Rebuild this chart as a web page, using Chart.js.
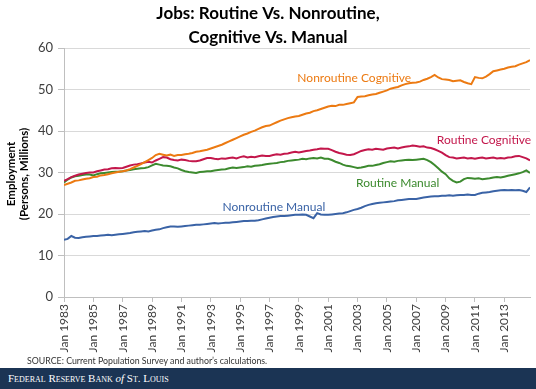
<!DOCTYPE html>
<html lang="en">
<head>
  <meta charset="UTF-8">
  <meta name="viewport" content="width=device-width, initial-scale=1.0">
  <title>Jobs: Routine Vs. Nonroutine, Cognitive Vs. Manual</title>
  <script src="https://cdn.jsdelivr.net/npm/chart.js"></script>
  <style>
    body {
      margin: 0;
      background: #ffffff;
      font-family: Lato, "Open Sans", sans-serif;
    }

    .page {
      position: relative;
      width: 536px;
      height: 389px;
      overflow: hidden;
    }

    .chart-container {
      position: absolute;
      left: 0;
      top: 0;
      width: 536px;
      height: 356px;
    }

    .source {
      position: absolute;
      left: 27px;
      top: 355px;
      font-size: 8.8px;
      color: #333333;
    }

    .footer {
      position: absolute;
      left: 0;
      top: 368px;
      width: 536px;
      height: 21px;
      box-sizing: border-box;
      padding-left: 8px;
      background: #1b3454;
      color: #ffffff;
      font-family: "Liberation Serif", "DejaVu Serif", serif;
      font-variant: small-caps;
      font-size: 11px;
      line-height: 21px;
    }

    .footer i {
      font-variant: normal;
    }
  </style>
</head>
<body>
  <div class="page">
    <div class="chart-container">
      <canvas id="jobsChart"></canvas>
    </div>
    <div class="source">SOURCE: Current Population Survey and author’s calculations.</div>
    <div class="footer">Federal Reserve Bank <i>of</i> St. Louis</div>
  </div>

  <script>
    // Quarterly readings (Jan, Apr, Jul, Oct), Jan 1983 - Oct 2014, millions of persons
    const startYear = 1983;
    const tickYears = [1983, 1985, 1987, 1989, 1991, 1993, 1995, 1997, 1999, 2001, 2003, 2005, 2007, 2009, 2011, 2013];
    const yTicks = [0, 10, 20, 30, 40, 50, 60];

    const nonroutineCognitive = [
      27.0, 27.3, 27.6, 28.0,  28.1, 28.3, 28.5, 28.6,  28.9, 29.0, 29.3, 29.4,
      29.6, 29.8, 30.0, 30.2,  30.3, 30.5, 30.8, 31.2,  31.6, 32.0, 32.5, 33.0,
      33.5, 34.2, 34.5, 34.3,  34.1, 34.3, 34.0, 34.2,  34.2, 34.4, 34.5, 34.7,
      35.0, 35.1, 35.3, 35.5,  35.8, 36.1, 36.4, 36.7,  37.1, 37.5, 37.9, 38.3,
      38.7, 39.1, 39.4, 39.8,  40.1, 40.5, 40.9, 41.2,  41.3, 41.7, 42.1, 42.5,
      42.8, 43.1, 43.3, 43.5,  43.6, 43.9, 44.2, 44.4,  44.8, 45.0, 45.3, 45.6,
      45.9, 46.1, 46.0, 46.3,  46.3, 46.5, 46.7, 46.9,  48.2, 48.3, 48.4, 48.6,
      48.8, 48.9, 49.2, 49.5,  49.8, 50.2, 50.4, 50.6,  51.0, 51.3, 51.5, 51.6,
      51.7, 51.9, 52.3, 52.6,  53.0, 53.5, 52.9, 52.5,  52.4, 52.3, 52.0, 52.1,
      52.2, 51.8, 51.5, 51.3,  53.0, 52.8, 52.7, 53.1,  53.7, 54.4, 54.6, 54.8,
      55.0, 55.3, 55.5, 55.6,  56.0, 56.3, 56.6, 57.1
    ];
    const routineCognitive = [
      28.0, 28.4, 28.9, 29.2,  29.5, 29.7, 29.9, 30.0,  30.0, 30.3, 30.5, 30.7,
      30.8, 31.0, 31.1, 31.0,  31.1, 31.4, 31.7, 31.9,  32.0, 32.2, 32.4, 32.6,
      32.4, 32.9, 33.3, 33.7,  33.6, 33.2, 33.0, 32.9,  33.1, 33.0, 32.8, 32.7,
      32.7, 32.9, 33.2, 33.5,  33.5, 33.3, 33.2, 33.4,  33.3, 33.5, 33.6, 33.4,
      33.7, 33.9, 33.6, 33.8,  33.7, 33.9, 34.1, 34.0,  34.0, 34.2, 34.4, 34.3,
      34.5, 34.6, 34.8, 35.0,  34.8, 35.0, 35.2, 35.3,  35.5, 35.6, 35.8, 35.7,
      35.7, 35.4, 35.0, 34.7,  34.5, 34.3, 34.2, 34.4,  34.8, 35.2, 35.4, 35.6,
      35.5, 35.7, 35.6, 35.5,  35.8, 35.9, 36.0, 35.8,  36.0, 36.2, 36.3, 36.5,
      36.4, 36.2, 36.3, 36.0,  35.9, 35.6, 35.2, 34.8,  34.2, 33.7, 33.6, 33.4,
      33.5, 33.6, 33.4, 33.5,  33.3, 33.5, 33.6, 33.4,  33.5, 33.6, 33.4, 33.5,
      33.4, 33.6, 33.7, 33.9,  34.0, 33.7, 33.4, 32.9
    ];
    const routineManual = [
      27.6, 28.3, 28.8, 29.1,  29.2, 29.4, 29.5, 29.5,  29.3, 29.6, 29.8, 29.9,
      30.0, 30.1, 30.2, 30.2,  30.3, 30.5, 30.6, 30.8,  30.9, 31.0, 31.1, 31.3,
      31.7, 32.1, 31.9, 31.7,  31.6, 31.5, 31.2, 31.0,  30.6, 30.3, 30.1, 30.0,
      29.9, 30.1, 30.2, 30.3,  30.3, 30.5, 30.6, 30.7,  30.8, 31.0, 31.2, 31.1,
      31.2, 31.3, 31.5, 31.4,  31.6, 31.7, 31.8, 32.0,  32.1, 32.2, 32.3, 32.5,
      32.6, 32.8, 32.9, 33.0,  33.1, 33.3, 33.2, 33.4,  33.5, 33.4, 33.6, 33.3,
      33.3, 33.0, 32.6, 32.3,  31.9, 31.6, 31.5, 31.3,  31.1, 31.2, 31.4, 31.6,
      31.6, 31.8, 32.0, 32.3,  32.5, 32.7, 32.6, 32.8,  32.9, 33.0, 33.1, 33.0,
      33.1, 33.2, 33.3, 33.0,  32.5, 31.8, 31.0, 30.2,  29.6, 28.6, 28.0, 27.6,
      27.8, 28.4, 28.7, 28.6,  28.5, 28.6, 28.4, 28.5,  28.6, 28.8, 28.9, 28.8,
      29.0, 29.2, 29.4, 29.6,  29.8, 30.1, 30.5, 29.9
    ];
    const nonroutineManual = [
      13.8, 14.0, 14.7, 14.3,  14.2, 14.4, 14.5, 14.6,  14.7, 14.7, 14.8, 14.9,
      15.0, 14.9, 15.0, 15.1,  15.2, 15.3, 15.4, 15.6,  15.7, 15.8, 15.9, 15.8,
      16.0, 16.2, 16.3, 16.6,  16.8, 17.0, 17.0, 16.9,  17.0, 17.1, 17.2, 17.3,
      17.4, 17.4, 17.5, 17.6,  17.7, 17.8, 17.7, 17.8,  17.9, 17.9, 18.0, 18.1,
      18.2, 18.3, 18.3, 18.4,  18.4, 18.5, 18.7, 18.9,  19.1, 19.3, 19.4, 19.5,
      19.5, 19.6, 19.7, 19.8,  19.8, 19.9, 19.8, 19.4,  19.0, 20.2, 19.9, 19.8,
      19.8, 19.9, 20.0, 20.1,  20.2, 20.4, 20.7, 21.0,  21.2, 21.5, 21.9, 22.2,
      22.4, 22.6, 22.7, 22.8,  22.9, 23.0, 23.1, 23.3,  23.4, 23.5, 23.6, 23.6,
      23.6, 23.8, 24.0, 24.1,  24.2, 24.3, 24.3, 24.4,  24.4, 24.5, 24.4, 24.5,
      24.6, 24.6, 24.7, 24.6,  24.6, 24.9, 25.1, 25.2,  25.3, 25.5, 25.6, 25.7,
      25.8, 25.7, 25.8, 25.7,  25.8, 25.6, 25.3, 26.4
    ];

    const seriesNames = ['Nonroutine Cognitive', 'Routine Cognitive', 'Routine Manual', 'Nonroutine Manual'];
    const seriesValues = [nonroutineCognitive, routineCognitive, routineManual, nonroutineManual];
    const seriesColors = ['#ec7a12', '#c3174b', '#3c8a2e', '#3a63a6'];
    // where each line's name sits, in axis units (left edge, vertical middle)
    const labelSpots = [[1998.9, 52.7], [2008.4, 37.9], [2002.9, 27.5], [1993.8, 21.7]];

    const toPoints = (values) => values.map((v, i) => ({ x: startYear + i / 4, y: v }));
    const lastX = startYear + (nonroutineCognitive.length - 1) / 4;

    // Title, axis title and in-chart line names
    const textPlugin = {
      id: 'chartTexts',
      afterDraw: (chart) => {
        const { ctx, scales } = chart;
        ctx.save();
        ctx.fillStyle = '#000000';
        ctx.textAlign = 'center';
        ctx.textBaseline = 'middle';
        ctx.font = 'bold 17px Lato, "Open Sans", sans-serif';
        ctx.fillText('Jobs: Routine Vs. Nonroutine,', 268, 14);
        ctx.fillText('Cognitive Vs. Manual', 268, 38);

        ctx.font = 'bold 11.5px Lato, "Open Sans", sans-serif';
        ctx.translate(0, 174);
        ctx.rotate(-Math.PI / 2);
        ctx.fillText('Employment', 0, 11);
        ctx.fillText('(Persons, Millions)', 0, 24);
        ctx.restore();

        ctx.save();
        ctx.font = '12px Lato, "Open Sans", sans-serif';
        ctx.textAlign = 'left';
        ctx.textBaseline = 'middle';
        seriesNames.forEach((name, i) => {
          ctx.fillStyle = seriesColors[i];
          ctx.fillText(name, scales.x.getPixelForValue(labelSpots[i][0]), scales.y.getPixelForValue(labelSpots[i][1]));
        });
        ctx.restore();
      },
    };

    const ctx = document.getElementById('jobsChart').getContext('2d');
    const jobsChart = new Chart(ctx, {
      type: 'line',
      data: {
        datasets: seriesNames.map((name, i) => ({
          label: name,
          data: toPoints(seriesValues[i]),
          borderColor: seriesColors[i],
          backgroundColor: seriesColors[i],
          borderWidth: 2,
          pointRadius: 0,
          tension: 0,
        })),
      },
      options: {
        responsive: true,
        maintainAspectRatio: false,
        animation: false,
        layout: {
          padding: { top: 48, right: 6, left: 0, bottom: 0 },
        },
        plugins: {
          legend: { display: false },
          tooltip: { enabled: false },
        },
        scales: {
          x: {
            type: 'linear',
            min: startYear,
            max: lastX,
            afterBuildTicks: (scale) => {
              scale.ticks = tickYears.map((v) => ({ value: v }));
            },
            afterFit: (scale) => {
              scale.height = 59;
            },
            grid: {
              drawOnChartArea: false,
              color: '#bfbfbf',
              tickLength: 5,
            },
            border: { color: '#bfbfbf' },
            ticks: {
              autoSkip: false,
              minRotation: 90,
              maxRotation: 90,
              padding: 2,
              color: '#404040',
              font: { family: 'Lato, "Open Sans", sans-serif', size: 12 },
              callback: (value) => 'Jan ' + value,
            },
          },
          y: {
            min: 0,
            max: 60,
            afterBuildTicks: (scale) => {
              scale.ticks = yTicks.map((v) => ({ value: v }));
            },
            afterFit: (scale) => {
              scale.width = 64;
            },
            grid: {
              color: '#d9d9d9',
              tickColor: '#bfbfbf',
              tickLength: 6,
            },
            border: { color: '#bfbfbf' },
            ticks: {
              padding: 5,
              color: '#404040',
              font: { family: 'Lato, "Open Sans", sans-serif', size: 13 },
            },
          },
        },
      },
      plugins: [textPlugin],
    });
  </script>
</body>
</html>
